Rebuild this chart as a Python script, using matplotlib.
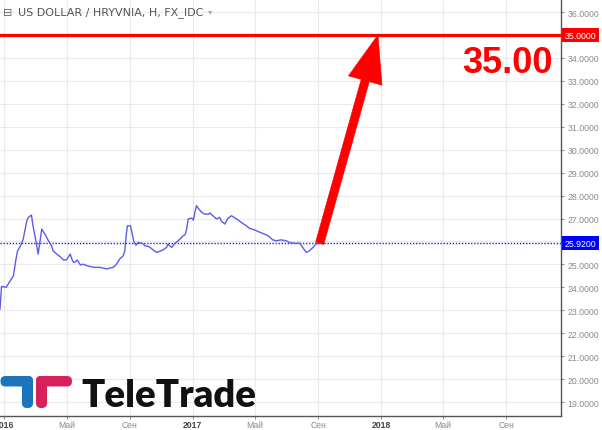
import numpy as np
import matplotlib
matplotlib.use("Agg")
import matplotlib.pyplot as plt
import matplotlib.transforms as mtransforms
from matplotlib.patches import FancyBboxPatch

# ---------------- data ----------------
dates = [
    "2015-12-24", "2015-12-27", "2016-01-05", "2016-01-13", "2016-01-19", "2016-01-24",
    "2016-01-27", "2016-02-02", "2016-02-07", "2016-02-14", "2016-02-17", "2016-02-23",
    "2016-02-26", "2016-03-02", "2016-03-07", "2016-03-14", "2016-03-20", "2016-03-27",
    "2016-04-02", "2016-04-05", "2016-04-12", "2016-04-18", "2016-04-25", "2016-05-01",
    "2016-05-08", "2016-05-13", "2016-05-17", "2016-05-22", "2016-05-28", "2016-06-02",
    "2016-06-10", "2016-06-15", "2016-06-25", "2016-07-05", "2016-07-11", "2016-07-18",
    "2016-07-24", "2016-07-31", "2016-08-06", "2016-08-12", "2016-08-19", "2016-08-22",
    "2016-08-25", "2016-08-27", "2016-09-02", "2016-09-04", "2016-09-09", "2016-09-13",
    "2016-09-17", "2016-09-24", "2016-09-27", "2016-09-30", "2016-10-06", "2016-10-10",
    "2016-10-16", "2016-10-23", "2016-10-29", "2016-11-04", "2016-11-11", "2016-11-14",
    "2016-11-17", "2016-11-21", "2016-11-27", "2016-11-30", "2016-12-07", "2016-12-13",
    "2016-12-17", "2016-12-20", "2016-12-23", "2016-12-30", "2017-01-02", "2017-01-05",
    "2017-01-08", "2017-01-11", "2017-01-18", "2017-01-24", "2017-01-31", "2017-02-03",
    "2017-02-09", "2017-02-16", "2017-02-22", "2017-02-25", "2017-03-04", "2017-03-10",
    "2017-03-17", "2017-03-27", "2017-04-05", "2017-04-15", "2017-04-21", "2017-05-01",
    "2017-05-11", "2017-05-20", "2017-05-27", "2017-06-05", "2017-06-12", "2017-06-21",
    "2017-07-01", "2017-07-07", "2017-07-14", "2017-07-20", "2017-07-27", "2017-08-02",
    "2017-08-09", "2017-08-15", "2017-08-22", "2017-08-28", "2017-09-04",
]
values = [
    23.05, 24.04, 24.00, 24.29, 24.50, 25.23,
    25.59, 25.81, 26.10, 26.90, 27.05, 27.15,
    26.68, 26.10, 25.45, 26.54, 26.32, 26.03,
    25.81, 25.59, 25.45, 25.35, 25.19, 25.20,
    25.45, 25.13, 25.09, 25.19, 24.97, 25.01,
    24.94, 24.91, 24.87, 24.87, 24.84, 24.80,
    24.84, 24.87, 25.01, 25.23, 25.38, 25.59,
    26.32, 26.68, 26.68, 26.47, 25.96, 25.84,
    25.96, 25.92, 25.89, 25.81, 25.79, 25.74,
    25.63, 25.52, 25.57, 25.63, 25.74, 25.89,
    25.81, 25.74, 25.92, 25.96, 26.10, 26.25,
    26.29, 26.54, 26.98, 27.02, 26.93, 27.27,
    27.56, 27.46, 27.27, 27.19, 27.19, 27.24,
    27.12, 26.98, 27.05, 26.90, 26.76, 27.01,
    27.12, 26.98, 26.83, 26.68, 26.57, 26.50,
    26.40, 26.32, 26.25, 26.07, 26.03, 26.07,
    26.03, 25.96, 25.93, 25.92, 25.93, 25.74,
    25.52, 25.59, 25.74, 25.89, 25.92,
]
last_price = 25.92
target_price = 35.00
target_date = "2017-12-26"
tick_dates = ["2016-01-01", "2016-05-01", "2016-09-01", "2017-01-01", "2017-05-01",
              "2017-09-01", "2018-01-01", "2018-05-01", "2018-09-01"]
tick_labels = ["2016", "Май", "Сен", "2017", "Май", "Сен", "2018", "Май", "Сен"]
y_ticks = list(range(19, 37))
x_range = ["2015-12-24", "2018-12-16"]
y_range = [18.39, 36.57]

# ---------------- figure ----------------
W, H = 602, 431
fig = plt.figure(figsize=(W / 100, H / 100), dpi=100)
fig.patch.set_facecolor("white")
ax = fig.add_axes([0, 14 / H, 561 / W, 1 - 14 / H])

d = np.array(dates, dtype="datetime64[D]")
ax.plot(d, values, color="#5c5ce8", lw=1.0, zorder=3)

ax.set_xlim(np.datetime64(x_range[0]), np.datetime64(x_range[1]))
ax.set_ylim(*y_range)

# grid
ax.set_yticks(y_ticks)
ax.set_xticks(np.array(tick_dates, dtype="datetime64[D]"))
ax.grid(True, color="#e8eaf0", lw=0.8, zorder=0)
ax.set_axisbelow(True)

# y labels on right
ax.yaxis.tick_right()
ylabels = []
for v in y_ticks:
    if abs(v - target_price) < 0.01 or abs(v - last_price) < 0.5:
        ylabels.append("")
    else:
        ylabels.append(f"{v:.4f}")
ax.set_yticklabels(ylabels, fontsize=6.3, color="#8a8a8a", family="Liberation Sans")
ax.tick_params(axis="y", length=2.5, width=0.6, color="#777777", pad=2)

ax.set_xticklabels(tick_labels, fontsize=6.2, family="Liberation Sans")
for lab, txt in zip(ax.get_xticklabels(), tick_labels):
    if txt.isdigit():
        lab.set_color("#444444")
        lab.set_fontweight("bold")
    else:
        lab.set_color("#8a8a8a")
ax.tick_params(axis="x", length=2, width=0.6, color="#777777", pad=0.8)

for s in ["left", "top"]:
    ax.spines[s].set_visible(False)
for s in ["right", "bottom"]:
    ax.spines[s].set_color("#555555")
    ax.spines[s].set_linewidth(1.0)

# horizontal lines
ax.axhline(target_price, color="#ff0000", lw=2.3, zorder=4)
ax.axhline(last_price, color="#1a1aff", lw=1.0, ls=(0, (1, 1.2)), zorder=2)

# boxed price labels
btr = mtransforms.blended_transform_factory(ax.transAxes, ax.transData)
ax.text(1 + 4 / 561, target_price, f"{target_price:.4f}", transform=btr, ha="left", va="center",
        fontsize=6.3, color="white", family="Liberation Sans", clip_on=False,
        bbox=dict(boxstyle="square,pad=0.3", fc="#ff0000", ec="none"), zorder=6)
ax.text(1 + 4 / 561, last_price, f"{last_price:.4f}", transform=btr, ha="left", va="center",
        fontsize=6.3, color="white", family="Liberation Sans", clip_on=False,
        bbox=dict(boxstyle="square,pad=0.3", fc="#0000ff", ec="none"), zorder=6)

# big arrow
ax.annotate("", xy=(np.datetime64(target_date), target_price), xytext=(d[-1], values[-1]),
            arrowprops=dict(arrowstyle="simple,head_length=3.4,head_width=2.5,tail_width=0.6",
                            mutation_scale=10, fc="#ff0000", ec="#ff0000", lw=0.5,
                            shrinkA=0, shrinkB=0), zorder=5)

# big label
ax.text(0.905, 33.8, f"{target_price:.2f}", transform=btr, ha="center", va="center",
        fontsize=26, fontweight="bold", color="#ff0000", family="Liberation Sans", zorder=6)

# ---------------- overlay: title and logo ----------------
ov = fig.add_axes([0, 0, 1, 1], zorder=10)
ov.set_xlim(0, W)
ov.set_ylim(H, 0)
ov.axis("off")
ov.patch.set_alpha(0)

ov.text(3, 13, "⊟", fontsize=8, color="#666666", va="center", ha="left", family="DejaVu Sans")
ov.text(18, 13, "US DOLLAR / HRYVNIA, H, FX_IDC", fontsize=8, color="#555555",
        va="center", ha="left", family="DejaVu Sans")
ov.text(208, 12, "▾", fontsize=6, color="#aaaaaa", va="center", ha="left", family="DejaVu Sans")

blue = "#1b75bc"
crimson = "#d6215b"
r = 5
ov.add_patch(FancyBboxPatch((0.5, 377), 32.5, 10.5, boxstyle=f"round,pad=0,rounding_size={r}",
                            fc=blue, ec="none"))
ov.add_patch(FancyBboxPatch((22, 377), 11, 32, boxstyle=f"round,pad=0,rounding_size={r}",
                            fc=blue, ec="none"))
ov.add_patch(FancyBboxPatch((36, 377), 11, 32, boxstyle=f"round,pad=0,rounding_size={r}",
                            fc=crimson, ec="none"))
ov.add_patch(FancyBboxPatch((36, 377), 36, 10.5, boxstyle=f"round,pad=0,rounding_size={r}",
                            fc=crimson, ec="none"))
ov.text(81, 407, "TeleTrade", fontsize=27.5, fontweight="heavy", color="#111111",
        family="Lato", va="baseline", ha="left")

fig.savefig("out.png", dpi=100, facecolor="white")
